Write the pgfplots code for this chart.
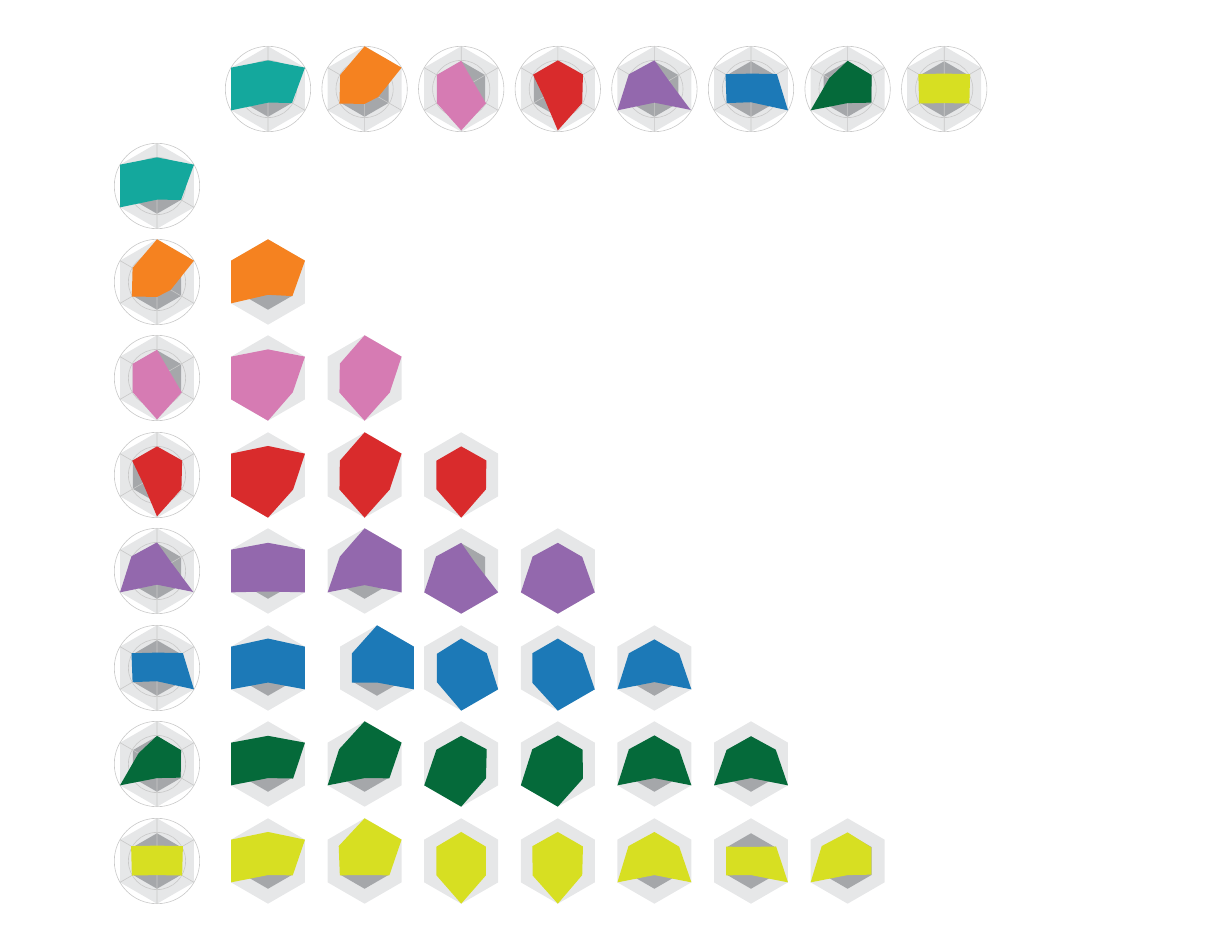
\documentclass[border=0pt]{standalone}
\usepackage{pgfplots}
\pgfplotsset{compat=1.18}
\usepgfplotslibrary{polar}
\definecolor{cA}{HTML}{14A89D}
\definecolor{cB}{HTML}{F58220}
\definecolor{cC}{HTML}{D67BB3}
\definecolor{cD}{HTML}{D92B2C}
\definecolor{cE}{HTML}{9368AD}
\definecolor{cF}{HTML}{1C79B7}
\definecolor{cG}{HTML}{056A3A}
\definecolor{cH}{HTML}{D7DF22}
\definecolor{lg}{HTML}{E6E7E8}
\definecolor{dg}{HTML}{A5A7AA}
\definecolor{gc}{HTML}{C8C8C8}
\pgfplotsset{
  radar/.style={scale only axis, width=85.4pt, height=85.4pt,
    xmin=0, xmax=360, ymin=0, ymax=1, clip=false, anchor=center,
    axis line style={draw=none}, xtick=\empty, ytick=\empty},
  gridded/.style={x axis line style={draw=gc, line width=0.6pt},
    xtick={30,90,150,210,270,330}, ytick={0.67},
    xticklabels={}, yticklabels={}, grid=major,
    major grid style={draw=gc, line width=0.6pt}, major tick length=0pt}
}
\newcommand\hexbg{%
  \addplot[fill=lg, draw=none] coordinates {(90,1)(30,1)(330,1)(270,1)(210,1)(150,1)};
  \addplot[fill=dg, draw=none] coordinates {(90,0.65)(30,0.65)(330,0.65)(270,0.65)(210,0.65)(150,0.65)};}
\newcommand\cell[9]{%
  \begin{polaraxis}[radar, at={(#1pt,#2pt)}]
  \hexbg
  \addplot[fill=#3, draw=none] coordinates {(90,#4)(30,#5)(330,#6)(270,#7)(210,#8)(150,#9)};
  \end{polaraxis}}
\newcommand\diag[9]{%
  \begin{polaraxis}[radar, at={(#1pt,#2pt)}]
  \hexbg
  \end{polaraxis}
  \begin{polaraxis}[radar, gridded, at={(#1pt,#2pt)}]
  \addplot[fill=#3, draw=none] coordinates {(90,#4)(30,#5)(330,#6)(270,#7)(210,#8)(150,#9)};
  \end{polaraxis}}
\begin{document}
\begin{tikzpicture}
\useasboundingbox (0pt,0pt) rectangle (1225pt,937pt);
% top row
\diag{268}{848}{cA}{0.67}{1.0}{0.65}{0.32}{1.0}{1.0}
\diag{364.6}{848}{cB}{1.0}{1.0}{0.37}{0.35}{0.68}{0.66}
\diag{461.2}{848}{cC}{0.66}{0.33}{0.67}{0.97}{0.66}{0.66}
\diag{557.8}{848}{cD}{0.67}{0.68}{0.66}{0.97}{0.38}{0.67}
\diag{654.4}{848}{cE}{0.67}{0.39}{0.98}{0.32}{1.0}{0.69}
\diag{751}{848}{cF}{0.36}{0.70}{1.0}{0.31}{0.66}{0.69}
\diag{847.6}{848}{cG}{0.66}{0.65}{0.64}{0.33}{1.0}{0.50}
\diag{944.2}{848}{cH}{0.36}{0.70}{0.68}{0.33}{0.68}{0.70}
% first column
\diag{157}{751}{cA}{0.67}{1.0}{0.65}{0.32}{1.0}{1.0}
\diag{157}{655}{cB}{1.0}{1.0}{0.37}{0.35}{0.68}{0.66}
\diag{157}{559}{cC}{0.66}{0.33}{0.67}{0.97}{0.66}{0.66}
\diag{157}{462}{cD}{0.67}{0.68}{0.66}{0.97}{0.38}{0.67}
\diag{157}{366}{cE}{0.67}{0.39}{0.98}{0.32}{1.0}{0.69}
\diag{157}{269}{cF}{0.36}{0.70}{1.0}{0.31}{0.66}{0.69}
\diag{157}{173}{cG}{0.66}{0.65}{0.64}{0.33}{1.0}{0.50}
\diag{157}{76}{cH}{0.36}{0.70}{0.68}{0.33}{0.68}{0.70}
% orange row
\cell{268}{655}{cB}{1.0}{1.0}{0.66}{0.30}{1.0}{1.0}
% pink row
\cell{268}{559}{cC}{0.67}{1.0}{0.67}{1.0}{1.0}{1.0}
\cell{364.6}{559}{cC}{1.0}{1.0}{0.68}{1.0}{0.68}{0.67}
% red row
\cell{268}{462}{cD}{0.68}{1.0}{0.68}{1.0}{1.0}{1.0}
\cell{364.6}{462}{cD}{1.0}{1.0}{0.68}{1.0}{0.68}{0.67}
\cell{461.2}{462}{cD}{0.67}{0.68}{0.67}{1.0}{0.67}{0.67}
% purple row
\cell{268}{366}{cE}{0.66}{1.0}{1.0}{0.48}{1.0}{1.0}
\cell{364.6}{366}{cE}{1.0}{1.0}{1.0}{0.33}{1.0}{0.67}
\cell{461.2}{366}{cE}{0.66}{0.38}{1.0}{1.0}{1.0}{0.68}
\cell{557.8}{366}{cE}{0.66}{0.66}{1.0}{1.0}{1.0}{0.68}
% blue row
\cell{268}{269}{cF}{0.69}{1.0}{1.0}{0.34}{1.0}{1.0}
\cell{377}{269}{cF}{1.0}{1.0}{1.0}{0.34}{0.68}{0.68}
\cell{461.2}{269}{cF}{0.69}{0.69}{1.0}{1.0}{0.66}{0.66}
\cell{557.8}{269}{cF}{0.69}{0.67}{1.0}{1.0}{0.69}{0.69}
\cell{654.4}{269}{cF}{0.67}{0.67}{1.0}{0.33}{1.0}{0.69}
% green row
\cell{268}{173}{cG}{0.66}{1.0}{0.68}{0.33}{1.0}{1.0}
\cell{364.6}{173}{cG}{1.0}{1.0}{0.67}{0.33}{1.0}{0.69}
\cell{461.2}{173}{cG}{0.66}{0.69}{0.67}{1.0}{1.0}{0.67}
\cell{557.8}{173}{cG}{0.67}{0.67}{0.68}{1.0}{1.0}{0.69}
\cell{654.4}{173}{cG}{0.67}{0.67}{1.0}{0.33}{1.0}{0.69}
\cell{751}{173}{cG}{0.65}{0.67}{1.0}{0.33}{1.0}{0.66}
% yellow row
\cell{268}{76}{cH}{0.68}{1.0}{0.67}{0.33}{1.0}{1.0}
\cell{364.6}{76}{cH}{1.0}{1.0}{0.67}{0.33}{0.67}{0.70}
\cell{461.2}{76}{cH}{0.68}{0.67}{0.67}{1.0}{0.67}{0.67}
\cell{557.8}{76}{cH}{0.68}{0.68}{0.66}{1.0}{0.68}{0.69}
\cell{654.4}{76}{cH}{0.68}{0.67}{1.0}{0.33}{1.0}{0.70}
\cell{751}{76}{cH}{0.33}{0.68}{1.0}{0.33}{0.67}{0.67}
\cell{847.6}{76}{cH}{0.67}{0.64}{0.64}{0.33}{1.0}{0.70}
\end{tikzpicture}
\end{document}
